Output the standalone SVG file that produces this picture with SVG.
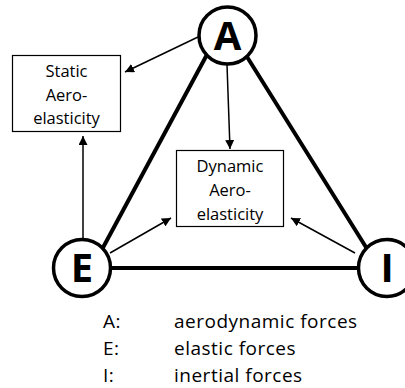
<svg xmlns="http://www.w3.org/2000/svg" width="405" height="388" viewBox="0 0 405 388">
<style>
.node{fill:#fff;stroke:#000;stroke-width:3.5}
.box{fill:#fff;stroke:#000;stroke-width:1.2}
.big{font-family:"Open Sans",sans-serif;font-weight:bold;font-size:40px;text-anchor:middle;fill:#000}
.lbl{font-family:"Open Sans",sans-serif;font-size:16.5px;text-anchor:middle;fill:#000}
.leg{font-family:"Open Sans",sans-serif;font-size:19px;letter-spacing:0.5px;fill:#000}
.edge{stroke:#000;stroke-width:4;fill:none}
.arr{stroke:#000;stroke-width:1.5;fill:none;marker-end:url(#ah)}
</style>
<defs>
<marker id="ah" viewBox="0 0 10 10" refX="10" refY="5" markerWidth="9" markerHeight="9" markerUnits="userSpaceOnUse" orient="auto">
<path d="M0,0 L10,5 L0,10 z" fill="#000"/>
</marker>
</defs>
<g id="connectors">
<line class="edge" x1="217" y1="36" x2="92" y2="268"/>
<line class="edge" x1="234" y1="36" x2="379" y2="268"/>
<line class="edge" x1="82" y1="268" x2="387" y2="268"/>
<line class="arr" x1="198" y1="37" x2="125" y2="72"/>
<line class="arr" x1="227" y1="65" x2="230" y2="149"/>
<line class="arr" x1="83" y1="240" x2="83" y2="136"/>
<line class="arr" x1="110" y1="253" x2="171" y2="218"/>
<line class="arr" x1="355" y1="253" x2="291" y2="218"/>
</g>
<g id="static">
<rect class="box" x="12.5" y="55.5" width="108" height="76"/>
<text class="lbl" x="66.5" y="77">Static</text>
<text class="lbl" x="66.5" y="100.5">Aero-</text>
<text class="lbl" x="66.5" y="124">elasticity</text>
</g>
<g id="dynamic">
<rect class="box" x="176.5" y="150.5" width="107" height="76"/>
<text class="lbl" x="230" y="172">Dynamic</text>
<text class="lbl" x="230" y="196">Aero-</text>
<text class="lbl" x="230" y="220">elasticity</text>
</g>
<g id="A">
<circle class="node" cx="227.5" cy="35.5" r="28.5"/>
<text class="big" x="227.5" y="50">A</text>
</g>
<g id="E">
<circle class="node" cx="82" cy="268" r="28.5"/>
<text class="big" x="82" y="282">E</text>
</g>
<g id="I">
<circle class="node" cx="387" cy="268" r="28.5"/>
<text class="big" x="387" y="282">I</text>
</g>
<g id="legend">
<text class="leg" x="103" y="328">A:</text>
<text class="leg" x="174" y="328">aerodynamic forces</text>
<text class="leg" x="103" y="355">E:</text>
<text class="leg" x="174" y="355">elastic forces</text>
<text class="leg" x="103" y="382">I:</text>
<text class="leg" x="174" y="382">inertial forces</text>
</g>
</svg>
